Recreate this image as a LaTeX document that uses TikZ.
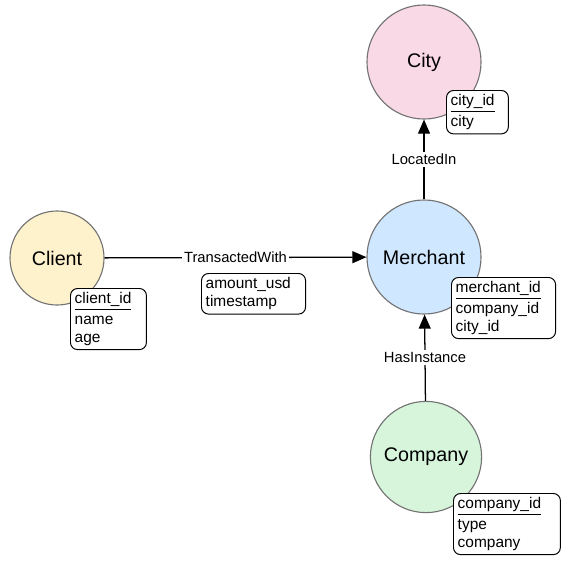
\documentclass[tikz,border=0pt]{standalone}
\usepackage{fontspec}
\setmainfont{Liberation Sans}
\usetikzlibrary{arrows.meta}

% key attribute, underlined
\newcommand{\keyattr}[1]{\underline{#1}\\[2pt]}

\tikzset{
  entity/.style={circle, draw=black!55, line width=0.8pt, inner sep=0pt,
    font=\fontsize{14}{16}\selectfont},
  attrs/.style={draw, fill=white, rounded corners=5pt, anchor=north west,
    align=left, inner sep=3pt, line width=0.7pt,
    font=\fontsize{11}{12.6}\selectfont},
  rel/.style={-{Triangle[length=10pt,width=8.5pt]}, line width=0.9pt},
  rellabel/.style={fill=white, inner sep=1.5pt, font=\fontsize{10.5}{12}\selectfont}
}

\begin{document}
\begin{tikzpicture}[x=0.025cm, y=-0.025cm]
    \useasboundingbox (0,0) rectangle (570,566);

    % entities
    \node[entity, fill={rgb,255:red,250;green,217;blue,230}, minimum size=2.85cm] (city) at (424,62) {City};
    \node[entity, fill={rgb,255:red,254;green,242;blue,204}, minimum size=2.35cm] (client) at (57,258) {Client};
    \node[entity, fill={rgb,255:red,208;green,232;blue,255}, minimum size=2.85cm] (merchant) at (424,257) {Merchant};
    \node[entity, fill={rgb,255:red,214;green,245;blue,218}, minimum size=2.78cm] (company) at (426,457) {Company};

    % relations
    \draw[rel] (client) -- (merchant) node[rellabel, pos=0.5] (transacted) {TransactedWith};
    \draw[rel] (merchant) -- (city) node[rellabel, pos=0.5] (located) {LocatedIn};
    \draw[rel] (company) -- (merchant) node[rellabel, pos=0.5] (hasinstance) {HasInstance};

    % properties
    \node[attrs, text width=38pt] (cityattrs) at (446,90) {\keyattr{city\_id}city};
    \node[attrs, text width=48pt] (clientattrs) at (70,288) {\keyattr{client\_id}name\\age};
    \node[attrs, text width=68pt] (transattrs) at (201,273) {amount\_usd\\timestamp};
    \node[attrs, text width=68pt] (merchantattrs) at (451,277) {\keyattr{merchant\_id}company\_id\\city\_id};
    \node[attrs, text width=70pt] (companyattrs) at (453,493) {\keyattr{company\_id}type\\company};
\end{tikzpicture}
\end{document}
